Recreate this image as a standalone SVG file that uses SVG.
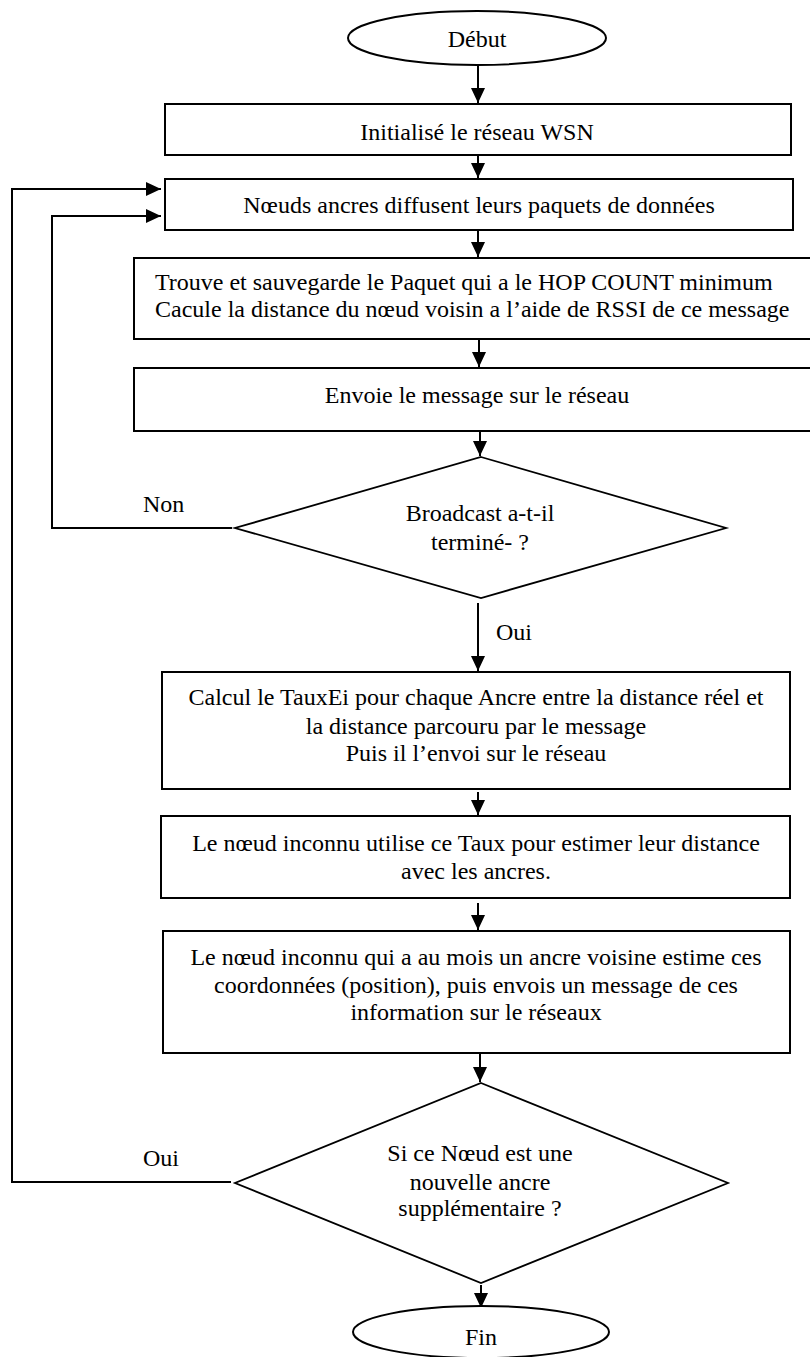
<svg xmlns="http://www.w3.org/2000/svg" width="810" height="1357" viewBox="0 0 810 1357">
  <style>
    .shape { fill: #ffffff; stroke: #000000; stroke-width: 2; }
    .dia { fill: #ffffff; stroke: #000000; stroke-width: 1.8; }
    .wire { fill: none; stroke: #000000; stroke-width: 2; }
    text { font-family: "Liberation Serif", Tinos, "Times New Roman", "DejaVu Serif", serif; font-size: 24px; fill: #000000; }
    .c { text-anchor: middle; }
  </style>
  <defs>
    <marker id="arrow" viewBox="0 0 15 14" refX="15" refY="7" markerWidth="15" markerHeight="14" markerUnits="userSpaceOnUse" orient="auto">
      <path d="M0,0 L15,7 L0,14 Z" fill="#000000"/>
    </marker>
  </defs>

  <rect width="810" height="1357" fill="#ffffff"/>

  <!-- connectors -->
  <g id="connectors" font-family="Liberation Serif, serif">
    <line class="wire" x1="478" y1="65" x2="478" y2="103" marker-end="url(#arrow)"/>
    <line class="wire" x1="478" y1="155" x2="478" y2="178" marker-end="url(#arrow)"/>
    <line class="wire" x1="478" y1="231" x2="478" y2="257" marker-end="url(#arrow)"/>
    <line class="wire" x1="479" y1="340" x2="479" y2="367" marker-end="url(#arrow)"/>
    <line class="wire" x1="480" y1="432" x2="480" y2="456" marker-end="url(#arrow)"/>
    <line class="wire" x1="478" y1="603" x2="478" y2="671" marker-end="url(#arrow)"/>
    <line class="wire" x1="478" y1="792" x2="478" y2="815" marker-end="url(#arrow)"/>
    <line class="wire" x1="478" y1="903" x2="478" y2="930" marker-end="url(#arrow)"/>
    <line class="wire" x1="480" y1="1054" x2="480" y2="1082" marker-end="url(#arrow)"/>
    <line class="wire" x1="481" y1="1285" x2="481" y2="1308" marker-end="url(#arrow)"/>
    <!-- loop back when broadcast is not finished -->
    <polyline class="wire" points="232,528 52,528 52,216 161,216" marker-end="url(#arrow)"/>
    <!-- loop back for a new anchor -->
    <polyline class="wire" points="231,1182 12,1182 12,189 161,189" marker-end="url(#arrow)"/>
    <text x="143" y="512">Non</text>
    <text x="496" y="640">Oui</text>
    <text x="143" y="1166">Oui</text>
  </g>

  <g id="start">
    <ellipse class="shape" cx="477" cy="38" rx="129" ry="27"/>
    <text class="c" x="477" y="47">Début</text>
  </g>

  <g id="init">
    <rect class="shape" x="165" y="104" width="626" height="51"/>
    <text class="c" x="477" y="140">Initialisé le réseau WSN</text>
  </g>

  <g id="broadcast">
    <rect class="shape" x="165" y="179" width="628" height="51"/>
    <text class="c" x="479" y="213">Nœuds ancres diffusent leurs paquets de données</text>
  </g>

  <g id="hopcount">
    <rect class="shape" x="134" y="258" width="680" height="81"/>
    <text x="155" y="290">Trouve et sauvegarde le Paquet qui a le HOP COUNT minimum</text>
    <text x="155" y="317">Cacule la distance du nœud voisin a l’aide de RSSI de ce message</text>
  </g>

  <g id="send">
    <rect class="shape" x="134" y="368" width="680" height="63"/>
    <text class="c" x="477" y="403">Envoie le message sur le réseau</text>
  </g>

  <g id="done">
    <polygon class="dia" points="481,457 726,528 481,598 235,528"/>
    <text class="c" x="480" y="521">Broadcast a-t-il</text>
    <text class="c" x="480" y="550">terminé- ?</text>
  </g>

  <g id="rate">
    <rect class="shape" x="162" y="672" width="628" height="117"/>
    <text class="c" x="476" y="705">Calcul le TauxEi pour chaque Ancre entre la distance réel et</text>
    <text class="c" x="476" y="734">la distance parcouru par le message</text>
    <text class="c" x="476" y="761">Puis il l’envoi sur le réseau</text>
  </g>

  <g id="estimate">
    <rect class="shape" x="161" y="816" width="629" height="82"/>
    <text class="c" x="476" y="851">Le nœud inconnu utilise ce Taux pour estimer leur distance</text>
    <text class="c" x="476" y="879">avec les ancres.</text>
  </g>

  <g id="position">
    <rect class="shape" x="163" y="931" width="627" height="122"/>
    <text class="c" x="476" y="965">Le nœud inconnu qui a au mois un ancre voisine estime ces</text>
    <text class="c" x="476" y="993">coordonnées (position), puis envois un message de ces</text>
    <text class="c" x="476" y="1020">information sur le réseaux</text>
  </g>

  <g id="newanchor">
    <polygon class="dia" points="481,1083 728,1183 481,1283 235,1183"/>
    <text class="c" x="480" y="1161">Si ce Nœud est une</text>
    <text class="c" x="480" y="1190">nouvelle ancre</text>
    <text class="c" x="480" y="1216">supplémentaire ?</text>
  </g>

  <g id="end">
    <ellipse class="shape" cx="481" cy="1332" rx="128" ry="26"/>
    <text class="c" x="481" y="1345">Fin</text>
  </g>
</svg>
